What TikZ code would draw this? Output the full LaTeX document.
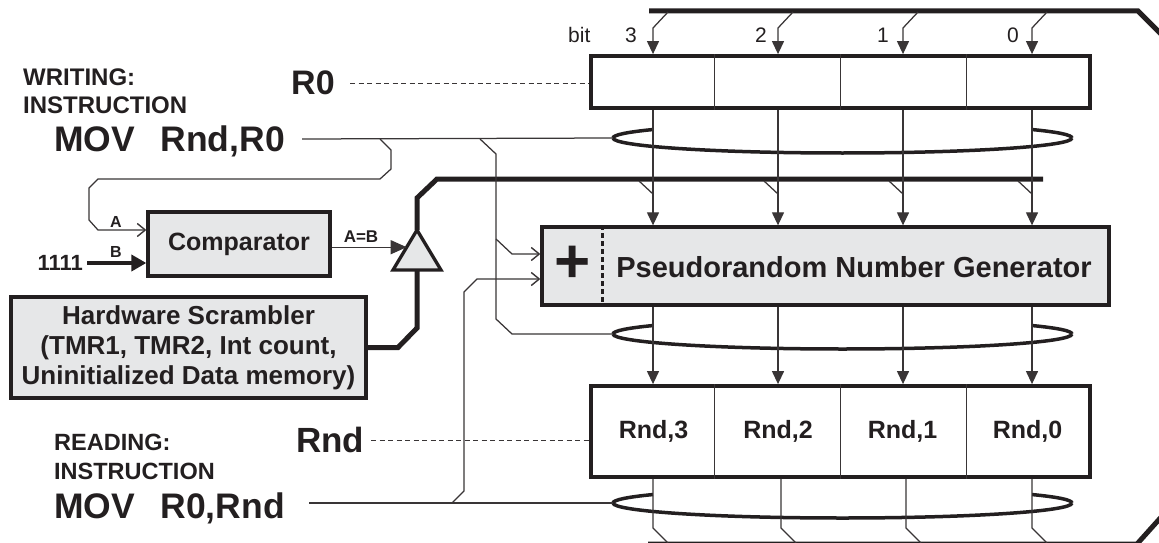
\documentclass[tikz,border=0pt]{standalone}
\usepackage{fontspec}
\setmainfont{Liberation Sans}
\usetikzlibrary{arrows.meta,calc}
\definecolor{ink}{HTML}{231F20}
\definecolor{boxgray}{HTML}{E6E7E8}
\newcommand\myfs[1]{\fontsize{#1}{#1}\selectfont}
\begin{document}
\begin{tikzpicture}[x=1pt,y=-1pt,line join=miter,
  wire/.style={line width=1.25pt,draw=ink!90},
  bus/.style={line width=5pt,draw=ink},
  ring/.style={line width=3.5pt,draw=ink},
  regbox/.style={draw=ink,line width=3.8pt,fill=white,inner sep=0pt},
  graybox/.style={draw=ink,line width=3.3pt,fill=boxgray,inner sep=0pt},
  lbl/.style={text=ink,inner sep=0pt},
  fillarrow/.style={-{Triangle[length=13pt,width=12pt]}},
  openarrow/.style={-{Straight Barb[length=8pt,width=13pt,line width=1.4pt]}},
  dashline/.style={wire,line width=1pt,dash pattern=on 5pt off 3.5pt}]
\useasboundingbox (0,0) rectangle (1159,543);
\clip (0,0) rectangle (1159,543);

% ---------- boxes ----------
\node[regbox,minimum width=499pt,minimum height=52pt] (r0) at (840.5,82) {};
\node[graybox,minimum width=567pt,minimum height=78pt] (prng) at (825.5,266) {};
\node[regbox,minimum width=499pt,minimum height=91pt] (rnd) at (840.5,431.5) {};
\node[graybox,minimum width=182pt,minimum height=64pt,font=\bfseries\myfs{25},text=ink] (cmp) at (239,244) {Comparator};
\node[graybox,minimum width=355pt,minimum height=101pt,align=center,text=ink,
      font=\bfseries\fontsize{26}{30}\selectfont] (scr) at (188.5,347.5)
      {Hardware Scrambler\\(TMR1, TMR2, Int count,\\Uninitialized Data memory)};

% register dividers
\foreach \f in {0.25,0.5,0.75}{
  \draw[wire] ($(r0.north west)!\f!(r0.north east)$) -- ($(r0.south west)!\f!(r0.south east)$);
  \draw[wire] ($(rnd.north west)!\f!(rnd.north east)$) -- ($(rnd.south west)!\f!(rnd.south east)$);
}
% PRNG separator and plus
\draw[ink,line width=3pt,dash pattern=on 5pt off 3pt] (602,0 |- prng.north) -- (602,0 |- prng.south);
\node[lbl,font=\bfseries\myfs{62}] (plus) at (573,264) {+};
\node[lbl,font=\bfseries\myfs{29},anchor=base] (prngtxt) at (854,277) {Pseudorandom Number Generator};

% Rnd cell labels
\node[lbl,font=\bfseries\myfs{25},anchor=base] (c3) at (653.5,438) {Rnd,3};
\node[lbl,font=\bfseries\myfs{25},anchor=base] (c2) at (778,438) {Rnd,2};
\node[lbl,font=\bfseries\myfs{25},anchor=base] (c1) at (902.5,438) {Rnd,1};
\node[lbl,font=\bfseries\myfs{25},anchor=base] (c0) at (1027.5,438) {Rnd,0};

% bit labels
\node[lbl,font=\myfs{21},anchor=base west] (bitl) at (568,43) {bit};
\node[lbl,font=\myfs{21},anchor=base] (b3) at (631,43) {3};
\node[lbl,font=\myfs{21},anchor=base] (b2) at (761,43) {2};
\node[lbl,font=\myfs{21},anchor=base] (b1) at (883,43) {1};
\node[lbl,font=\myfs{21},anchor=base] (b0) at (1013,43) {0};

% ---------- rings (bundles) ----------
\coordinate (ring1w) at (613,138);
\coordinate (ring2w) at (613,334);
\coordinate (ring3w) at (613,503);
\foreach \y in {138,334,503}{
  \draw[ring] (1072,\y) arc[start angle=0,end angle=180,x radius=229.5,y radius=15];
  \draw[ring] (613,\y) arc[start angle=180,end angle=214.3,x radius=229.5,y radius=15];
  \draw[ring] (1072,\y) arc[start angle=360,end angle=325.7,x radius=229.5,y radius=15];
}

% ---------- buses ----------
\coordinate (tapex) at (417,230);
\coordinate (tbl) at (393,270);
\coordinate (tbr) at (441,270);
\coordinate (tbase) at (417,270);
\draw[bus] (649,11) -- (1138,11) -- (1178,51);
\draw[bus] (tapex) -- (417,198) -- (437,179) -- (1043,179);
\draw[bus] (648,544) -- (1137,544) -- (1172,505);
\draw[bus] (scr.east) -- (398,347.5) -- (417,328) -- (tbase);
\draw[draw=ink,line width=3.3pt,fill=boxgray] (tapex) -- (tbr) -- (tbl) -- cycle;

% ---------- bit wires ----------
\foreach \x in {653,778,903,1032}{
  \draw[wire,fillarrow] (\x+15,12) -- (\x,28) -- (\x,0 |- r0.north);
  \draw[wire,fillarrow] (\x,0 |- r0.south) -- (\x,0 |- prng.north);
  \draw[wire] (\x-14,181) -- (\x,194);
  \draw[wire,fillarrow] (\x,0 |- prng.south) -- (\x,0 |- rnd.north);
}
\foreach \x in {653,781,906,1032}{
  \draw[wire] (\x,0 |- rnd.south) -- (\x,528) -- (\x+15,543);
}

% ---------- left side labels ----------
\node[lbl,font=\bfseries\myfs{24},anchor=base west] (wr) at (23,85) {WRITING:};
\node[lbl,font=\bfseries\myfs{24},anchor=base west] (ins1) at (23,113) {INSTRUCTION};
\node[lbl,font=\bfseries\myfs{35.5},anchor=base west] (movw) at (54,151) {MOV\hspace{0.72em}Rnd,R0};
\node[lbl,font=\bfseries\myfs{34},anchor=base west] (r0lbl) at (291,95) {R0};
\node[lbl,font=\bfseries\myfs{23.5},anchor=base west] (rd) at (54,450) {READING:};
\node[lbl,font=\bfseries\myfs{23.5},anchor=base west] (ins2) at (54,479) {INSTRUCTION};
\node[lbl,font=\bfseries\myfs{35.5},anchor=base west] (movr) at (54,518) {MOV\hspace{0.72em}R0,Rnd};
\node[lbl,font=\bfseries\myfs{35},anchor=base west] (rndlbl) at (296,452) {Rnd};
\node[lbl,font=\bfseries\myfs{22},anchor=east] (n1111) at (83,263) {1111};
\node[lbl,font=\bfseries\myfs{16}] (la) at (116,222) {A};
\node[lbl,font=\bfseries\myfs{16}] (lb) at (116,252) {B};
\node[lbl,font=\bfseries\myfs{17}] (laeqb) at (361,237) {A=B};

% dashed pointers
\draw[dashline] (350,83) -- (r0.west |- 0,83);
\draw[dashline] (371,440) -- (rnd.west |- 0,440);

% ---------- instruction wires ----------
\coordinate (movwline) at (302,139);
\coordinate (movrline) at (309,503);
\draw[wire] (movwline) -- (ring1w);
\draw[wire,openarrow] (380,139) -- (391,150) -- (391,169) -- (380,179) -- (98,179)
   -- (89,188) -- (89,220) -- (98,230) -- (cmp.west |- 0,230);
\draw[wire] (480,139) -- (496,154) -- (496,319) -- (512,334) -- (ring2w);
\draw[wire,openarrow] (496,239) -- (512,254) -- (prng.west |- 0,254);
\draw[wire] (movrline) -- (ring3w);
\draw[wire,openarrow] (452,503) -- (464,491) -- (464,292) -- (477,279) -- (prng.west |- 0,279);

% comparator inputs/outputs
\draw[line width=4pt,draw=ink,-{Triangle[length=15pt,width=16pt]}] (87,263) -- (cmp.west |- 0,263);
\coordinate (aeqb) at ($(tapex)!0.43!(tbl)$);
\draw[wire,-{Triangle[length=16pt,width=14pt]}] (cmp.east |- aeqb) -- (aeqb);
\end{tikzpicture}
\end{document}
